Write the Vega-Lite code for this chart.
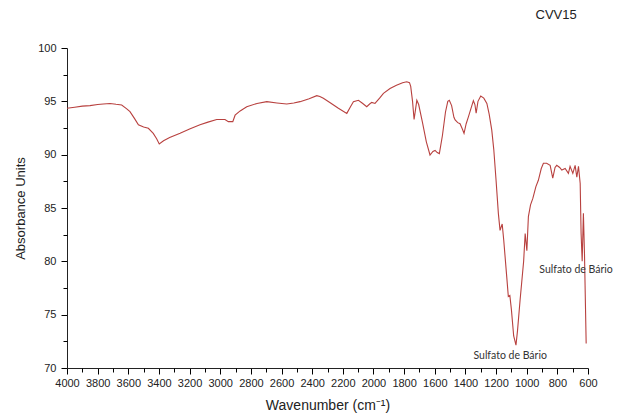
{
  "$schema": "https://vega.github.io/schema/vega-lite/v6.json",
  "width": 521,
  "height": 320,
  "autosize": {"type": "none"},
  "padding": {"left": 67, "top": 48, "right": 45, "bottom": 50},
  "background": "white",
  "config": {
    "view": {"stroke": null},
    "font": "Liberation Sans",
    "axis": {"grid": false, "domainColor": "#222", "labelColor": "#222", "titleColor": "#222", "labelFont": "Liberation Sans", "titleFont": "Liberation Sans", "titleFontWeight": "normal", "labelFontSize": 11, "labelOverlap": false}
  },
  "title": {"text": "CVV15", "anchor": "end", "dx": -36, "offset": 20, "fontSize": 13, "fontWeight": "normal", "font": "Liberation Sans", "color": "#222"},
  "layer": [
    {
      "data": {"values": [
        {"w":4000,"a":94.35},{"w":3950,"a":94.45},{"w":3900,"a":94.55},{"w":3850,"a":94.6},{"w":3800,"a":94.7},{"w":3763,"a":94.75},{"w":3719,"a":94.8},{"w":3680,"a":94.72},{"w":3643,"a":94.66},{"w":3610,"a":94.3},{"w":3589,"a":94.03},{"w":3560,"a":93.4},{"w":3534,"a":92.8},{"w":3500,"a":92.6},{"w":3469,"a":92.47},{"w":3437,"a":92.0},{"w":3415,"a":91.5},{"w":3398,"a":91.0},{"w":3370,"a":91.3},{"w":3330,"a":91.6},{"w":3262,"a":92.0},{"w":3200,"a":92.4},{"w":3132,"a":92.8},{"w":3080,"a":93.05},{"w":3023,"a":93.3},{"w":2969,"a":93.3},{"w":2947,"a":93.1},{"w":2918,"a":93.1},{"w":2903,"a":93.7},{"w":2870,"a":94.1},{"w":2827,"a":94.5},{"w":2760,"a":94.8},{"w":2696,"a":94.97},{"w":2630,"a":94.85},{"w":2566,"a":94.75},{"w":2520,"a":94.85},{"w":2479,"a":94.97},{"w":2420,"a":95.25},{"w":2370,"a":95.53},{"w":2350,"a":95.45},{"w":2327,"a":95.28},{"w":2280,"a":94.85},{"w":2229,"a":94.35},{"w":2174,"a":93.87},{"w":2150,"a":94.5},{"w":2131,"a":94.97},{"w":2098,"a":95.1},{"w":2070,"a":94.8},{"w":2044,"a":94.5},{"w":2025,"a":94.75},{"w":2011,"a":94.9},{"w":1990,"a":94.8},{"w":1960,"a":95.3},{"w":1935,"a":95.75},{"w":1892,"a":96.2},{"w":1850,"a":96.5},{"w":1810,"a":96.75},{"w":1783,"a":96.84},{"w":1765,"a":96.75},{"w":1757,"a":96.4},{"w":1745,"a":95.0},{"w":1735,"a":93.3},{"w":1725,"a":94.3},{"w":1717,"a":95.1},{"w":1705,"a":94.7},{"w":1680,"a":93.0},{"w":1655,"a":91.2},{"w":1631,"a":89.97},{"w":1612,"a":90.3},{"w":1598,"a":90.4},{"w":1584,"a":90.2},{"w":1570,"a":90.1},{"w":1550,"a":91.8},{"w":1530,"a":94.0},{"w":1515,"a":95.0},{"w":1505,"a":95.1},{"w":1490,"a":94.6},{"w":1475,"a":93.5},{"w":1467,"a":93.25},{"w":1450,"a":93.0},{"w":1435,"a":92.9},{"w":1420,"a":92.4},{"w":1409,"a":92.0},{"w":1395,"a":92.9},{"w":1380,"a":93.56},{"w":1360,"a":94.5},{"w":1348,"a":95.06},{"w":1338,"a":94.7},{"w":1330,"a":93.9},{"w":1318,"a":95.0},{"w":1300,"a":95.5},{"w":1280,"a":95.3},{"w":1260,"a":94.8},{"w":1245,"a":93.8},{"w":1228,"a":92.3},{"w":1215,"a":90.5},{"w":1200,"a":87.6},{"w":1185,"a":84.5},{"w":1174,"a":82.9},{"w":1160,"a":83.5},{"w":1150,"a":82.0},{"w":1130,"a":78.5},{"w":1120,"a":76.7},{"w":1110,"a":76.8},{"w":1100,"a":75.5},{"w":1085,"a":73.0},{"w":1070,"a":72.15},{"w":1060,"a":73.5},{"w":1043,"a":76.4},{"w":1020,"a":80.0},{"w":1010,"a":82.6},{"w":999,"a":81.0},{"w":989,"a":84.2},{"w":975,"a":85.3},{"w":960,"a":85.9},{"w":940,"a":87.0},{"w":924,"a":87.6},{"w":905,"a":88.7},{"w":891,"a":89.2},{"w":870,"a":89.2},{"w":847,"a":89.0},{"w":830,"a":87.8},{"w":815,"a":88.8},{"w":804,"a":89.0},{"w":785,"a":88.8},{"w":771,"a":88.56},{"w":749,"a":88.7},{"w":728,"a":88.25},{"w":717,"a":88.9},{"w":699,"a":88.25},{"w":684,"a":89.0},{"w":673,"a":87.9},{"w":662,"a":88.9},{"w":651,"a":87.3},{"w":645,"a":82.6},{"w":638,"a":80.0},{"w":630,"a":84.5},{"w":623,"a":80.75},{"w":612,"a":72.3}
      ]},
      "mark": {"type": "line", "color": "#b8413f", "strokeWidth": 1.1, "interpolate": "linear"},
      "encoding": {
        "x": {"field": "w", "type": "quantitative", "scale": {"domain": [600, 4000], "reverse": true, "nice": false, "zero": false},
          "axis": {"values": [4000,3800,3600,3400,3200,3000,2800,2600,2400,2200,2000,1800,1600,1400,1200,1000,800,600], "format": "d", "title": "Wavenumber (cm⁻¹)", "titleFontSize": 14, "titlePadding": 10, "ticks": true, "tickSize": 6, "tickWidth": 1, "tickColor": "black", "labelPadding": 3, "labelFlush": false}},
        "y": {"field": "a", "type": "quantitative", "scale": {"domain": [70, 100], "nice": false, "zero": false},
          "axis": {"values": [70,75,80,85,90,95,100], "format": "d", "title": "Absorbance Units", "titleFontSize": 13, "titlePadding": 10, "ticks": true, "tickSize": 6, "tickWidth": 1, "tickColor": "black", "labelPadding": 5}}
      }
    },
    {
      "data": {"values": [
        {"w":1108,"a":71.1,"t":"Sulfato de Bário"},
        {"w":678,"a":79.2,"t":"Sulfato de Bário"}
      ]},
      "mark": {"type": "text", "font": "Lato", "fontSize": 10.5, "color": "#333", "align": "center", "baseline": "middle"},
      "encoding": {
        "x": {"field": "w", "type": "quantitative",
          "axis": {"orient": "bottom", "values": [3900,3700,3500,3300,3100,2900,2700,2500,2300,2100,1900,1700,1500,1300,1100,900,700], "labels": false, "domain": false, "ticks": true, "tickSize": 4, "tickWidth": 1, "tickColor": "black", "title": null}},
        "y": {"field": "a", "type": "quantitative",
          "axis": {"orient": "left", "values": [72.5,77.5,82.5,87.5,92.5,97.5], "labels": false, "domain": false, "ticks": true, "tickSize": 4, "tickWidth": 1, "tickColor": "black", "title": null}},
        "text": {"field": "t"}
      }
    }
  ],
  "resolve": {"axis": {"x": "independent", "y": "independent"}}
}
